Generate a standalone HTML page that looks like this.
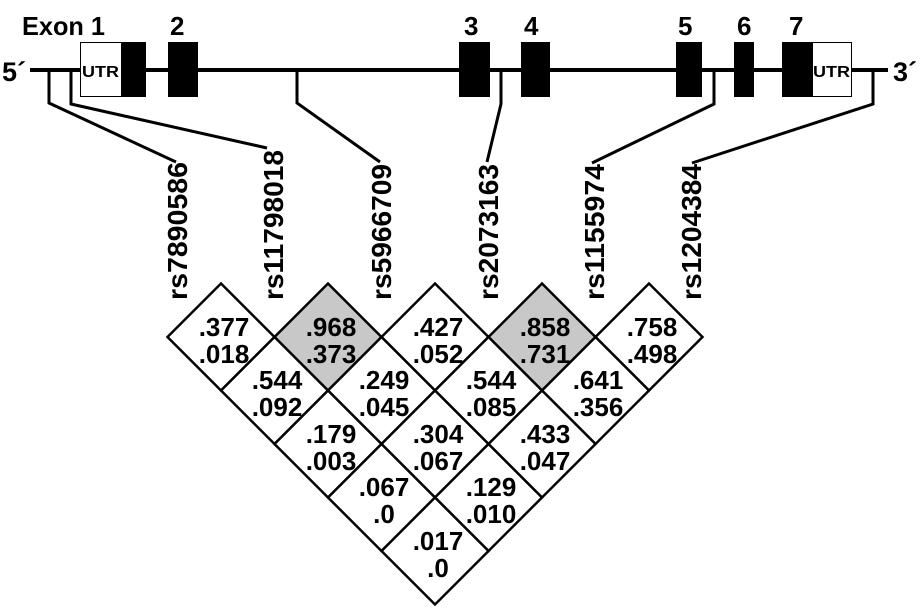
<!DOCTYPE html>
<html><head><style>body{margin:0;background:#fff}svg{display:block}</style></head><body>
<svg width="922" height="610" viewBox="0 0 922 610" xmlns="http://www.w3.org/2000/svg" font-family="Liberation Sans, Arial, sans-serif" font-weight="bold">
<rect width="922" height="610" fill="#fff"/>
<text x="22" y="35" font-size="26" textLength="83" lengthAdjust="spacingAndGlyphs">Exon 1</text>
<text x="170" y="35" font-size="26">2</text>
<text x="464" y="35" font-size="26">3</text>
<text x="524" y="35" font-size="26">4</text>
<text x="678" y="35" font-size="26">5</text>
<text x="737" y="35" font-size="26">6</text>
<text x="789" y="35" font-size="26">7</text>
<text x="2" y="81" font-size="27">5´</text>
<text x="893" y="81" font-size="27">3´</text>
<rect x="30" y="68" width="858" height="4" fill="#000"/>
<rect x="80.5" y="42.5" width="41" height="54" fill="#fff" stroke="#000"/>
<text x="82" y="77" font-size="16" textLength="37" lengthAdjust="spacingAndGlyphs">UTR</text>
<rect x="121" y="42" width="25" height="55" fill="#000"/>
<rect x="168" y="42" width="30" height="55" fill="#000"/>
<rect x="459" y="42" width="31" height="55" fill="#000"/>
<rect x="521" y="42" width="29" height="55" fill="#000"/>
<rect x="676" y="42" width="26" height="55" fill="#000"/>
<rect x="734" y="42" width="20" height="55" fill="#000"/>
<rect x="782" y="42" width="30" height="55" fill="#000"/>
<rect x="812.5" y="42.5" width="39" height="54" fill="#fff" stroke="#000"/>
<text x="813" y="77" font-size="16" textLength="37" lengthAdjust="spacingAndGlyphs">UTR</text>
<g stroke="#000" stroke-width="3" fill="none">
<polyline points="49,72 49,103 176,162"/>
<polyline points="71,72 71,104 267,148"/>
<polyline points="297,72 297,103 380,162"/>
<polyline points="501,72 501,104 487,162"/>
<polyline points="714,72 714,104 592,163"/>
<polyline points="873,72 873,104 692,163"/>
</g>
<g font-size="28">
<text transform="translate(187,300) rotate(-90)" textLength="138" lengthAdjust="spacingAndGlyphs">rs7890586</text>
<text transform="translate(283,300) rotate(-90)" textLength="150" lengthAdjust="spacingAndGlyphs">rs11798018</text>
<text transform="translate(391,300) rotate(-90)" textLength="136" lengthAdjust="spacingAndGlyphs">rs5966709</text>
<text transform="translate(498,300) rotate(-90)" textLength="136" lengthAdjust="spacingAndGlyphs">rs2073163</text>
<text transform="translate(604,300) rotate(-90)" textLength="136" lengthAdjust="spacingAndGlyphs">rs1155974</text>
<text transform="translate(701,300) rotate(-90)" textLength="136" lengthAdjust="spacingAndGlyphs">rs1204384</text>
</g>
<g stroke="#000" stroke-width="2.5">
<path d="M221,283.5 l53.5,53.5 l-53.5,53.5 l-53.5,-53.5z" fill="#fff"/>
<path d="M328,283.5 l53.5,53.5 l-53.5,53.5 l-53.5,-53.5z" fill="#c8c8c8"/>
<path d="M435,283.5 l53.5,53.5 l-53.5,53.5 l-53.5,-53.5z" fill="#fff"/>
<path d="M542,283.5 l53.5,53.5 l-53.5,53.5 l-53.5,-53.5z" fill="#c8c8c8"/>
<path d="M649,283.5 l53.5,53.5 l-53.5,53.5 l-53.5,-53.5z" fill="#fff"/>
<path d="M274.5,337 l53.5,53.5 l-53.5,53.5 l-53.5,-53.5z" fill="#fff"/>
<path d="M381.5,337 l53.5,53.5 l-53.5,53.5 l-53.5,-53.5z" fill="#fff"/>
<path d="M488.5,337 l53.5,53.5 l-53.5,53.5 l-53.5,-53.5z" fill="#fff"/>
<path d="M595.5,337 l53.5,53.5 l-53.5,53.5 l-53.5,-53.5z" fill="#fff"/>
<path d="M328,390.5 l53.5,53.5 l-53.5,53.5 l-53.5,-53.5z" fill="#fff"/>
<path d="M435,390.5 l53.5,53.5 l-53.5,53.5 l-53.5,-53.5z" fill="#fff"/>
<path d="M542,390.5 l53.5,53.5 l-53.5,53.5 l-53.5,-53.5z" fill="#fff"/>
<path d="M381.5,444 l53.5,53.5 l-53.5,53.5 l-53.5,-53.5z" fill="#fff"/>
<path d="M488.5,444 l53.5,53.5 l-53.5,53.5 l-53.5,-53.5z" fill="#fff"/>
<path d="M435,497.5 l53.5,53.5 l-53.5,53.5 l-53.5,-53.5z" fill="#fff"/>
</g>
<g font-size="26" text-anchor="middle">
<text x="224" y="336">.377</text><text x="224" y="363">.018</text>
<text x="331" y="336">.968</text><text x="331" y="363">.373</text>
<text x="438" y="336">.427</text><text x="438" y="363">.052</text>
<text x="545" y="336">.858</text><text x="545" y="363">.731</text>
<text x="652" y="336">.758</text><text x="652" y="363">.498</text>
<text x="277" y="389">.544</text><text x="277" y="416">.092</text>
<text x="384" y="389">.249</text><text x="384" y="416">.045</text>
<text x="491" y="389">.544</text><text x="491" y="416">.085</text>
<text x="598" y="389">.641</text><text x="598" y="416">.356</text>
<text x="331" y="443">.179</text><text x="331" y="470">.003</text>
<text x="438" y="443">.304</text><text x="438" y="470">.067</text>
<text x="545" y="443">.433</text><text x="545" y="470">.047</text>
<text x="384" y="496">.067</text><text x="384" y="523">.0</text>
<text x="491" y="496">.129</text><text x="491" y="523">.010</text>
<text x="438" y="550">.017</text><text x="438" y="577">.0</text>
</g>
</svg>
</body></html>
